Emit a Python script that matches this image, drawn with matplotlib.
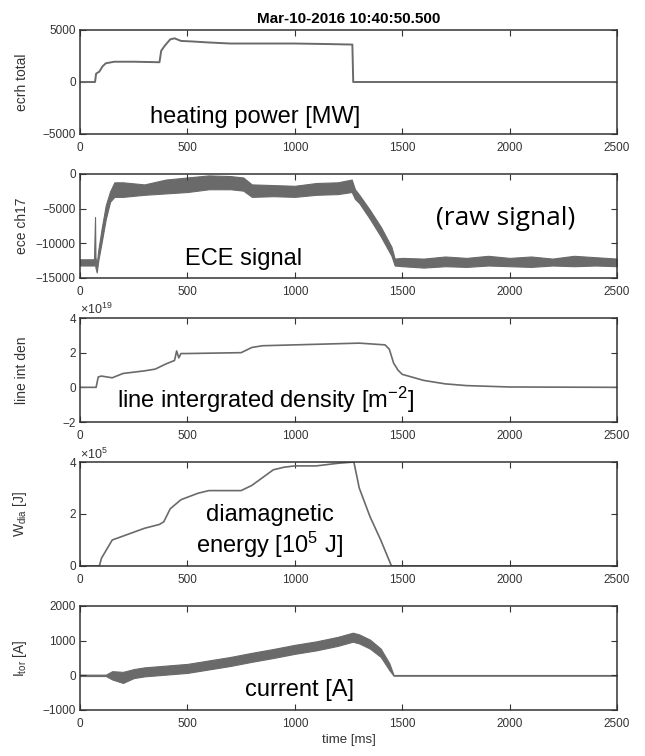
import numpy as np
import matplotlib
matplotlib.use("Agg")
import matplotlib.pyplot as plt

# --- data (time in ms) ---
ecrh_t = [0, 70, 75, 90, 105, 120, 160, 250, 370, 378, 395, 420, 440, 470, 520, 600, 700, 850, 1000, 1150, 1268, 1272, 1600, 2000, 2500]
ecrh_v = [0, 0, 800, 1000, 1500, 1800, 1950, 1950, 1900, 3000, 3500, 4100, 4200, 3950, 3900, 3800, 3700, 3700, 3700, 3650, 3600, 0, 0, 0, 0]

ece_t = [0, 65, 70, 72, 78, 85, 100, 120, 140, 160, 200, 300, 400, 500, 600, 700, 760, 800, 900, 1000,
         1100, 1200, 1265, 1280, 1300, 1350, 1400, 1450, 1465, 1500, 1600, 1700, 1800, 1900, 2000, 2100, 2200, 2300, 2400, 2500]
ece_hi = [-12300, -12300, -6200, -12000, -13000, -11000, -8000, -4500, -2500, -1200, -1200, -1500, -800, -500, -200, -300, -500, -1500, -1600, -1700,
          -1300, -1200, -800, -2200, -3000, -5200, -7600, -10500, -12200, -12100, -12200, -11900, -12100, -11800, -12100, -11900, -12200, -11800, -12000, -12200]
ece_lo = [-13200, -13200, -13000, -13500, -14200, -12500, -10000, -6500, -4000, -3300, -3300, -3000, -2800, -2600, -2200, -2200, -2400, -3300, -3200, -3300,
          -3000, -2900, -2600, -3600, -4200, -6500, -9000, -11800, -13200, -13300, -13500, -13300, -13400, -13200, -13300, -13400, -13200, -13300, -13200, -13300]

dens_t = [0, 75, 85, 100, 150, 200, 300, 350, 400, 440, 450, 460, 470, 500, 750, 800, 850, 1000, 1300, 1420, 1440, 1460, 1480, 1500, 1600, 1700, 1800, 2000, 2500]
dens_v = [0, 0, 0.6, 0.65, 0.55, 0.8, 0.95, 1.05, 1.35, 1.55, 2.1, 1.7, 1.95, 1.95, 2.0, 2.3, 2.4, 2.45, 2.55, 2.45, 2.2, 1.4, 1.0, 0.75, 0.4, 0.2, 0.1, 0.02, 0]

wdia_t = [0, 90, 100, 150, 200, 300, 370, 390, 420, 470, 550, 600, 750, 800, 850, 900, 950, 1000, 1100, 1200, 1275, 1300, 1350, 1400, 1450, 2500]
wdia_v = [0, 0, 0.3, 1.0, 1.15, 1.45, 1.6, 1.7, 2.2, 2.55, 2.8, 2.9, 2.9, 3.1, 3.4, 3.7, 3.8, 3.85, 3.85, 3.95, 4.0, 3.0, 1.9, 1.0, 0, 0]

cur_t = [0, 120, 150, 200, 250, 300, 400, 500, 600, 700, 800, 900, 1000, 1100, 1200, 1270, 1300, 1350, 1400, 1440, 1460, 2500]
cur_hi = [20, 20, 120, 100, 180, 230, 280, 330, 430, 530, 650, 760, 880, 980, 1110, 1230, 1180, 1030, 770, 350, 10, 10]
cur_lo = [-20, -20, -120, -220, -80, -30, 20, 70, 170, 270, 390, 500, 620, 720, 850, 970, 920, 770, 530, 150, -10, -10]

ylabels = ["ecrh total", "ece ch17", "line int den", "W$_{\\rm dia}$ [J]", "I$_{\\rm tor}$ [A]"]
yticks = [[-5000, 0, 5000], [-15000, -10000, -5000, 0], [-2, 0, 2, 4], [0, 2, 4], [-1000, 0, 1000, 2000]]
xticks = [0, 500, 1000, 1500, 2000, 2500]

plt.rcParams['font.family'] = ['Liberation Sans', 'DejaVu Sans']
plt.rcParams['mathtext.fontset'] = 'custom'
plt.rcParams['mathtext.rm'] = 'Liberation Sans'
plt.rcParams['mathtext.it'] = 'Liberation Sans'
line_c = '#6a6a6a'
spine_c = '#333333'

fig = plt.figure(figsize=(6.45, 7.56), dpi=100)
W, H = 645.0, 756.0
left, right = 80, 617
tops = [30, 174, 318, 462, 606]
height = 104
axes = []
for top in tops:
    ax = fig.add_axes([left / W, 1 - (top + height) / H, (right - left) / W, height / H])
    axes.append(ax)

axes[0].plot(ecrh_t, ecrh_v, color=line_c, lw=1.4)
axes[1].fill_between(ece_t, ece_lo, ece_hi, color=line_c, lw=0.8, edgecolor=line_c)
axes[2].plot(dens_t, dens_v, color=line_c, lw=1.2)
axes[3].plot(wdia_t, wdia_v, color=line_c, lw=1.2)
axes[4].fill_between(cur_t, cur_lo, cur_hi, color=line_c, lw=0.8, edgecolor=line_c)

for i, ax in enumerate(axes):
    ax.set_xlim(0, 2500)
    ax.set_ylim(yticks[i][0], yticks[i][-1])
    ax.set_xticks(xticks)
    ax.set_yticks(yticks[i])
    ax.tick_params(direction='in', top=True, right=True, length=4, width=0.8,
                   labelsize=8.5, colors=spine_c)
    ax.tick_params(axis='x', pad=6)
    ax.tick_params(axis='y', pad=3)
    for s in ax.spines.values():
        s.set_color(spine_c)
        s.set_linewidth(1.1)
    ax.set_ylabel(ylabels[i], fontsize=10, color=spine_c)
    ax.yaxis.set_label_coords(-0.095, 0.5)

axes[0].set_title("Mar-10-2016 10:40:50.500", fontsize=11, fontweight='bold', pad=5)
axes[4].set_xlabel("time [ms]", fontsize=9.5, color=spine_c, labelpad=3)
axes[2].text(0.0, 1.01, "×10$^{19}$", transform=axes[2].transAxes, fontsize=9, color=spine_c, va='bottom')
axes[3].text(0.0, 1.0, "×10$^{5}$", transform=axes[3].transAxes, fontsize=9, color=spine_c, va='bottom')

# annotations
axes[0].text(815, -3340, "heating power [MW]", fontsize=17, ha='center', va='center')
axes[1].text(763, -12240, "ECE signal", fontsize=17, ha='center', va='center')
axes[1].text(1982, -6440, "(raw signal)", fontsize=19, ha='center', va='center', family='Open Sans')
axes[2].text(863, -0.74, "line intergrated density [m$^{-2}$]", fontsize=17, ha='center', va='center')
axes[3].text(883, 1.3, "diamagnetic\nenergy [10$^{5}$ J]", fontsize=17, ha='center', va='center', linespacing=1.15)
axes[4].text(1022, -420, "current [A]", fontsize=17, ha='center', va='center')

fig.savefig("out.png", dpi=100, facecolor='white')
